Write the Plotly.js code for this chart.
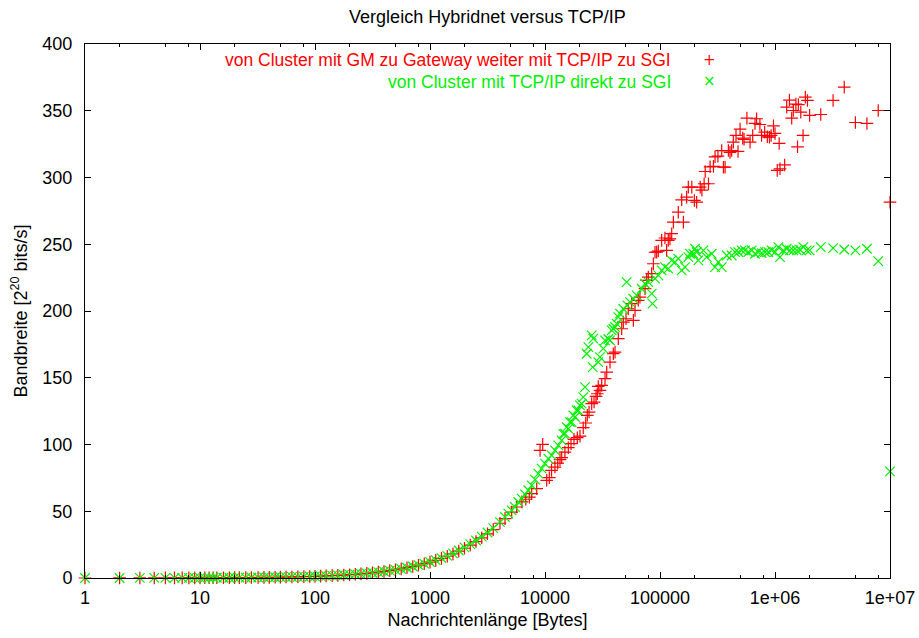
<!DOCTYPE html>
<html>
<head>
<meta charset="utf-8">
<script src="https://cdn.plot.ly/plotly-3.0.1.min.js"></script>
<style>html,body{margin:0;padding:0;background:#fff;}#chart{width:919px;height:638px;}</style>
</head>
<body>
<div id="chart"></div>
<script>
// ---- Data ----
var chartTitle = 'Vergleich Hybridnet versus TCP/IP';
var xTitle = 'Nachrichtenlänge [Bytes]';
var yTitle = 'Bandbreite [2<sup>20</sup> bits/s]';
var redName = 'von Cluster mit GM zu Gateway weiter mit TCP/IP zu SGI';
var greenName = 'von Cluster mit TCP/IP direkt zu SGI';

var xTickVals = [1, 10, 100, 1000, 10000, 100000, 1000000, 10000000];
var xTickText = ['1', '10', '100', '1000', '10000', '100000', '1e+06', '1e+07'];
var xMinorVals = [2,5,8,20,50,80,200,500,800,2000,5000,8000,20000,50000,80000,
                  200000,500000,800000,2000000,5000000,8000000];
var yTickVals = [0, 50, 100, 150, 200, 250, 300, 350, 400];

// small message sizes (both series)
var xLow = [1,2,3,4,5,6,7,8,9,10,11,12,13,14,16,18,20,22,25,28,32,36,40,45,50,56,63,71,80,90,
            100,112,125,141,158,178,200,224,251,282,316,355,398,447,501,562,631,708,794,891,
            1000,1122,1259,1413,1585,1778,1995,2239,2512,2818,3162,3548];
var greenLow = [0,0.02,0.04,0.05,0.06,0.07,0.09,0.1,0.11,0.12,0.14,0.15,0.16,0.18,0.2,0.22,0.25,0.27,0.31,0.35,
                0.4,0.45,0.5,0.56,0.62,0.7,0.79,0.89,1.0,1.12,1.25,1.4,1.56,1.76,1.97,2.22,2.49,2.79,3.11,3.49,
                3.91,4.38,4.9,5.49,6.14,6.87,7.7,8.62,9.64,10.8,12.0,13.4,14.9,16.6,18.5,20.6,22.9,25.4,28.1,31.0,
                34.1,37.3];
var redLow = [0,0.02,0.04,0.05,0.06,0.07,0.09,0.1,0.11,0.12,0.14,0.15,0.16,0.18,0.2,0.22,0.25,0.27,0.31,0.35,
              0.4,0.45,0.5,0.56,0.62,0.7,0.79,0.89,1.0,1.12,1.25,1.4,1.56,1.76,1.97,2.22,2.49,2.79,3.11,3.49,
              3.91,4.38,4.9,5.49,6.14,6.87,7.7,8.6,9.6,10.7,11.9,13.2,14.7,16.3,18.1,20.1,22.3,24.7,27.3,30.1,
              33.1,36.2];

// larger message sizes, green series
var xGreenHigh = [4060,4490,4800,5130,5480,5860,6270,6700,7160,7660,
  8190,8750,9360,10000,10690,11430,12220,13060,13960,14430,
  14920,15450,15950,16490,17050,17630,18230,18870,19480,20150,
  20820,21520,22260,23060,23820,25470,26000,26330,29060,30070,
  32140,33260,35540,36740,38020,39280,40640,42010,43390,44890,
  47990,51300,52000,54850,58650,62700,69300,74130,79130,84680,
  86000,90520,96680,103400,110400,118000,126400,134900,144200,154400,
  164900,176300,182400,195000,201400,208400,215400,238200,254700,281600,
  300800,321500,344300,380500,420200,449000,480000,513000,548000,586000,
  627000,670000,716000,766000,819000,875000,935000,1000000,1069000,1105000,
  1181000,1264000,1350000,1443000,1545000,1650000,1763000,1887000,2000000,2500000,
  3200000,4000000,5000000,6300000,7900000,10000000];
var greenHigh = [41.9,45.7,48.2,50.7,53.2,56.9,59.4,62.7,65.7,69.4,
  73.7,78.2,81.9,85.7,89.4,91.9,95.6,99.4,103.1,108,
  108.1,113,111.9,116.8,116.8,121.8,120.6,125.6,125.6,129.3,
  130.6,135.5,143,168,173,181.7,158,179.3,161.7,165.5,
  171.8,178,179,178,185.5,186.7,188,190.5,195.4,198,
  201.7,221.6,204.2,206.7,209.2,211.7,216.7,220.4,221.6,213,
  205.5,224.2,226.7,230.4,232.9,231.7,237.9,236.6,239.2,230.4,
  232.9,240.4,242.9,242.9,246.6,244.1,237.9,245.4,240.4,242.9,
  232.9,236.6,232.9,241.6,241.6,244.1,244.1,245.4,245.4,244.1,
  245.4,242.9,244.1,243.4,244.1,244.1,245.4,244.1,247.9,240.4,
  245.4,246.6,245.4,245.4,245.4,245.9,247.9,245.4,245.4,247.9,
  247.1,246.1,245.4,246.6,237.4,79.9];

// larger message sizes, red series
var xRedHigh = [4060,4490,5130,5670,6300,6800,7310,7660,8470,9060,
  9550,10350,10900,11400,12200,12900,13500,13970,14900,15950,
  16830,17870,19100,20150,21500,22600,23330,24150,25470,26700,
  27780,28500,29060,30070,31120,33260,34420,36740,39280,40640,
  43390,46430,47990,50630,52980,56720,58650,60640,64770,66940,
  74130,76610,79130,84680,87540,90520,93560,96680,103400,110400,
  114200,118000,122000,126400,130700,144200,154400,159700,170500,176300,
  189000,199000,208400,223700,231300,242000,247200,264000,272700,291600,
  301000,319000,344000,356000,368000,393000,406000,420000,434000,458000,
  477000,497000,524000,538000,570000,607000,640000,670000,692000,739000,
  764000,813000,858000,895000,926000,970000,1000000,1046000,1087000,1105000,
  1213000,1264000,1335000,1397000,1443000,1520000,1570000,1596000,1676000,1754000,
  1836000,1916000,2000000,2500000,3200000,4000000,5000000,6300000,7900000,10000000];
var redHigh = [41.0,44.5,49.4,53.2,57.0,59.0,60.6,63.2,66.9,95.6,
  100.1,73.2,75.2,80.6,83.1,86,88.7,90.2,94.3,97.6,
  100.6,103.9,105.1,106.3,112.6,116.1,121.8,124.3,130.6,131.8,
  136,138,143.5,140.5,144.3,149.3,154.2,161.7,168,169.2,
  179.3,186.7,191.7,194.2,201.7,205.5,193,200.4,208,210.4,
  216.7,223,225.4,228,235.4,244,244.1,244.9,252.9,254.7,
  245.4,252.9,254,257.9,266.6,274,283.3,266.6,285.3,292.8,
  292.8,282.8,281.5,292.8,290.5,295.3,304.5,295.3,308,308.3,
  315.5,316,320.2,307.7,307.7,320.2,318.8,320.2,326.5,331.5,
  319.5,336.2,329.5,328.6,344.5,326.5,331.5,340.5,344,339.7,
  331.5,334,330.5,330.2,331.5,338.7,333,305.3,325.5,306.5,
  309.4,352.7,358,344.5,350.2,355,323,354.6,348.9,331.5,
  360.2,357.7,346.5,347.2,357.7,367.7,341.2,340.5,350.2,281.5];

var redColor = '#ff0000';
var greenColor = '#00f000';
var fontFamily = 'Liberation Sans, Arial, Helvetica, sans-serif';
var fs = 18;
var legendFs = 17.5;

var red = {
  x: xLow.concat(xRedHigh), y: redLow.concat(redHigh),
  type: 'scatter', mode: 'markers', name: redName, cliponaxis: false,
  marker: {symbol: 'cross-thin-open', size: 9, color: redColor, line: {color: redColor, width: 1.2}}
};
var green = {
  x: xLow.concat(xGreenHigh), y: greenLow.concat(greenHigh),
  type: 'scatter', mode: 'markers', name: greenName, cliponaxis: false,
  marker: {symbol: 'x-thin-open', size: 9.5, color: greenColor, line: {color: greenColor, width: 1.2}}
};

var axisCommon = {
  showline: true, linecolor: '#000', linewidth: 1, mirror: 'ticks',
  ticks: 'inside', ticklen: 6, tickwidth: 1, tickcolor: '#000',
  showgrid: false, zeroline: false,
  tickfont: {family: fontFamily, size: fs, color: '#000'}
};

var layout = {
  width: 919, height: 638,
  margin: {l: 85, r: 29, t: 44, b: 60},
  paper_bgcolor: '#fff', plot_bgcolor: '#fff',
  showlegend: false,
  font: {family: fontFamily, size: fs, color: '#000'},
  title: {text: chartTitle, x: 0.5, xref: 'paper', xanchor: 'center',
          y: 1 - 17 / 638, yref: 'container', yanchor: 'middle',
          font: {family: fontFamily, size: fs, color: '#000'}},
  xaxis: Object.assign({}, axisCommon, {
    type: 'log', range: [0, 7],
    tickmode: 'array', tickvals: xTickVals, ticktext: xTickText,
    ticklabelstandoff: 3,
    minor: {tickmode: 'array', tickvals: xMinorVals, ticks: 'inside', ticklen: 3, tickcolor: '#000', tickwidth: 1, showgrid: false},
    title: {text: xTitle, standoff: 6, font: {family: fontFamily, size: fs, color: '#000'}}
  }),
  yaxis: Object.assign({}, axisCommon, {
    range: [0, 400], tickmode: 'array', tickvals: yTickVals,
    ticklabelstandoff: 8,
    title: {text: yTitle, standoff: 10, font: {family: fontFamily, size: fs, color: '#000'}}
  }),
  annotations: [
    {xref: 'paper', yref: 'paper', x: 0.729, y: (578 - 59.5) / 534, xanchor: 'right', yanchor: 'middle',
     text: redName, showarrow: false, borderpad: 0, font: {family: fontFamily, size: legendFs, color: redColor}},
    {xref: 'paper', yref: 'paper', x: 0.729, y: (578 - 81.5) / 534, xanchor: 'right', yanchor: 'middle',
     text: greenName, showarrow: false, borderpad: 0, font: {family: fontFamily, size: legendFs, color: greenColor}},
    {xref: 'paper', yref: 'paper', x: 0.776, y: (578 - 60) / 534, xanchor: 'center', yanchor: 'middle',
     text: '+', showarrow: false, borderpad: 0, font: {family: 'DejaVu Sans, sans-serif', size: 15, color: redColor}},
    {xref: 'paper', yref: 'paper', x: 0.776, y: (578 - 81) / 534, xanchor: 'center', yanchor: 'middle',
     text: '×', showarrow: false, borderpad: 0, font: {family: 'DejaVu Sans, sans-serif', size: 15, color: greenColor}}
  ]
};

Plotly.newPlot('chart', [red, green], layout, {displayModeBar: false, staticPlot: true});
</script>
</body>
</html>
